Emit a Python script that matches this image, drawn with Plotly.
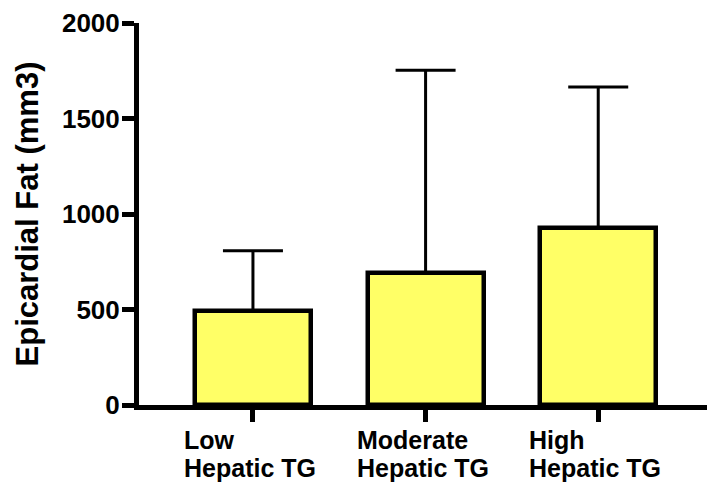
import plotly.graph_objects as go

# Epicardial fat volume by hepatic triglyceride group (mean + upper error)
label_line1 = ["Low", "Moderate", "High"]
label_line2 = ["Hepatic TG", "Hepatic TG", "Hepatic TG"]
positions = [0, 1, 2]
means = [490, 691, 927]
upper_err = [317, 1061, 738]
y_ticks = [0, 500, 1000, 1500, 2000]

FONT = "Liberation Sans, Arial, sans-serif"
LABEL_SIZE = 25
LABEL_BOX = 138  # width of the two-line label block, px

fig = go.Figure()
fig.add_trace(go.Bar(
    x=positions,
    y=means,
    width=0.672,
    marker=dict(color="#FFFF66", line=dict(color="black", width=4.5)),
    error_y=dict(
        type="data",
        array=upper_err,
        arrayminus=[0] * len(means),
        symmetric=False,
        color="black",
        thickness=3,
        width=30,
    ),
    showlegend=False,
))

# Category labels: two left-aligned lines in a block centred on each tick
for pos, l1, l2 in zip(positions, label_line1, label_line2):
    for text, shift in ((l1, -20), (l2, -48)):
        fig.add_annotation(
            x=pos, xref="x",
            y=0, yref="paper",
            yshift=shift,
            text="<b>" + text + "</b>",
            showarrow=False,
            width=LABEL_BOX,
            align="left",
            xanchor="center",
            yanchor="top",
            borderpad=0,
            font=dict(family=FONT, size=LABEL_SIZE, color="black"),
        )

fig.update_layout(
    width=707,
    height=482,
    margin=dict(l=139, r=0, t=23, b=77),
    paper_bgcolor="white",
    plot_bgcolor="white",
    bargap=0,
    font=dict(family=FONT, color="black"),
)

fig.update_xaxes(
    range=[-0.660, 2.630],
    tickvals=positions,
    showticklabels=False,
    ticks="outside",
    ticklen=12,
    tickwidth=5,
    tickcolor="black",
    showline=True,
    linewidth=5,
    linecolor="black",
    showgrid=False,
    zeroline=False,
)

fig.update_yaxes(
    range=[0, 2000],
    tickvals=y_ticks,
    ticktext=["<b>%d</b>" % v for v in y_ticks],
    ticks="outside",
    ticklen=12,
    tickwidth=5,
    tickcolor="black",
    tickfont=dict(family=FONT, size=26, color="black"),
    ticklabelstandoff=-3,
    showline=True,
    linewidth=5,
    linecolor="black",
    showgrid=False,
    zeroline=False,
    title=dict(
        text="<b>Epicardial Fat (mm3)</b>",
        font=dict(family=FONT, size=31, color="black"),
        standoff=16,
    ),
)

fig.write_html("out.html")
